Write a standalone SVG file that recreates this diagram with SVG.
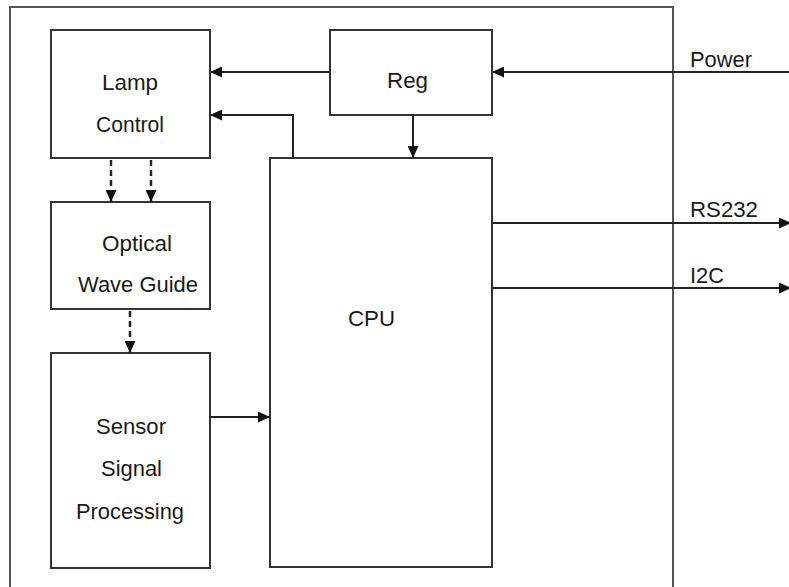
<svg xmlns="http://www.w3.org/2000/svg" width="789" height="587" viewBox="0 0 789 587">
<defs>
<style>
.box{fill:#fff;stroke:#333;stroke-width:2}
.frame{fill:none;stroke:#555;stroke-width:2}
.ln{fill:none;stroke:#222;stroke-width:2}
.dash{fill:none;stroke:#222;stroke-width:2.5;stroke-dasharray:6 4}
text{font-family:"Liberation Sans",Arial,sans-serif;font-size:22px;fill:#1a1a1a}
</style>
<marker id="ah" viewBox="0 0 12 11" refX="12" refY="5.5" markerWidth="12" markerHeight="11" markerUnits="userSpaceOnUse" orient="auto">
<path d="M0,0 L12,5.5 L0,11 Z" fill="#111"/>
</marker>
</defs>
<rect width="789" height="587" fill="#fff"/>
<g id="frame">
<path class="frame" d="M10,590 L10,7 L673,7 L673,590"/>
</g>
<g id="lamp">
<rect class="box" x="51" y="30" width="159" height="128"/>
<text x="102" y="90" textLength="56" lengthAdjust="spacingAndGlyphs">Lamp</text>
<text x="96" y="132" textLength="68" lengthAdjust="spacingAndGlyphs">Control</text>
</g>
<g id="reg">
<rect class="box" x="330" y="30" width="162" height="85"/>
<text x="387" y="88" textLength="41" lengthAdjust="spacingAndGlyphs">Reg</text>
</g>
<g id="owg">
<rect class="box" x="51" y="202" width="159" height="107"/>
<text x="102" y="251" textLength="70" lengthAdjust="spacingAndGlyphs">Optical</text>
<text x="78" y="292" textLength="120" lengthAdjust="spacingAndGlyphs">Wave Guide</text>
</g>
<g id="sensor">
<rect class="box" x="51" y="353" width="159" height="215"/>
<text x="96" y="434" textLength="70" lengthAdjust="spacingAndGlyphs">Sensor</text>
<text x="101" y="476" textLength="61" lengthAdjust="spacingAndGlyphs">Signal</text>
<text x="76" y="519" textLength="108" lengthAdjust="spacingAndGlyphs">Processing</text>
</g>
<g id="cpu">
<rect class="box" x="270" y="158" width="222" height="409"/>
<text x="348" y="326" textLength="47" lengthAdjust="spacingAndGlyphs">CPU</text>
</g>
<g id="connectors">
<path class="ln" d="M789,72 L492,72" marker-end="url(#ah)"/>
<path class="ln" d="M330,72 L210,72" marker-end="url(#ah)"/>
<path class="ln" d="M293,158 L293,115 L210,115" marker-end="url(#ah)"/>
<path class="ln" d="M413,115 L413,158" marker-end="url(#ah)"/>
<path class="dash" d="M111,160 L111,202" marker-end="url(#ah)"/>
<path class="dash" d="M151,160 L151,202" marker-end="url(#ah)"/>
<path class="dash" d="M130,311 L130,353" marker-end="url(#ah)"/>
<path class="ln" d="M210,417 L270,417" marker-end="url(#ah)"/>
<path class="ln" d="M492,223 L791,223" marker-end="url(#ah)"/>
<path class="ln" d="M492,288 L791,288" marker-end="url(#ah)"/>
</g>
<g id="labels">
<text x="690" y="67" textLength="62" lengthAdjust="spacingAndGlyphs">Power</text>
<text x="690" y="217" textLength="68" lengthAdjust="spacingAndGlyphs">RS232</text>
<text x="690" y="283" textLength="34" lengthAdjust="spacingAndGlyphs">I2C</text>
</g>
</svg>
